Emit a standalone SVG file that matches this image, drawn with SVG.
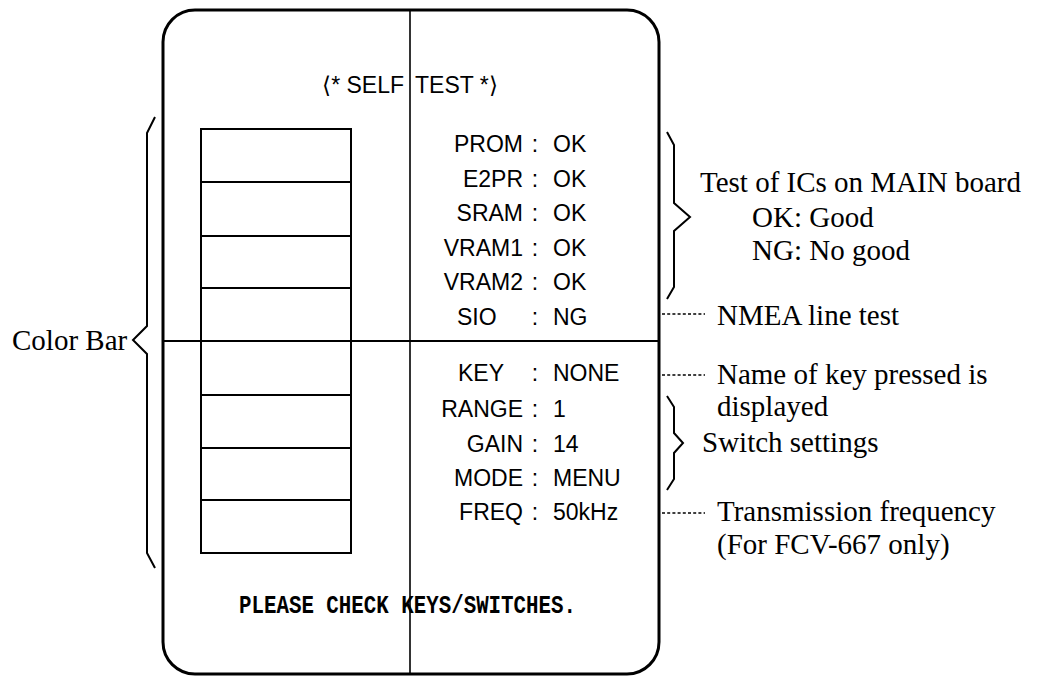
<svg xmlns="http://www.w3.org/2000/svg" width="1039" height="677" viewBox="0 0 1039 677">
<style>
.frame{fill:none;stroke:#000;stroke-width:3}
.thin{fill:none;stroke:#000;stroke-width:1.6}
.box{fill:none;stroke:#000;stroke-width:2}
.brace{fill:none;stroke:#000;stroke-width:2;stroke-linejoin:miter}
.dot{fill:none;stroke:#000;stroke-width:1.4;stroke-dasharray:3 2.2}
.lbl{font-family:"Liberation Sans",Arial,sans-serif;font-size:23px;fill:#000}
.lr{text-anchor:end}
.col{text-anchor:middle}
.ser{font-family:"Liberation Serif","Times New Roman",serif;font-size:29px;fill:#000}
.mono{font-family:"Liberation Mono","Courier New",monospace;font-size:26px;font-weight:bold;fill:#000}
</style>
<rect width="1039" height="677" fill="#fff"/>
<g id="screen">
<rect class="frame" x="163" y="10" width="496" height="664" rx="32" ry="32"/>
<line class="thin" x1="410" y1="10" x2="410" y2="674"/>
<line class="box" x1="163" y1="341" x2="659" y2="341"/>
<text class="lbl" y="93" font-size="26"><tspan x="404" text-anchor="end">⟨* SELF</tspan><tspan x="415">TEST *⟩</tspan></text>
<text class="mono" x="239" y="613" textLength="337" lengthAdjust="spacingAndGlyphs">PLEASE CHECK KEYS/SWITCHES.</text>
</g>
<g id="colorbar">
<rect class="box" x="201" y="129" width="150" height="424"/>
<path class="box" d="M201,182H351M201,236H351M201,288H351M201,395H351M201,448H351M201,500H351"/>
</g>
<g id="ic-tests">
<text class="lbl lr" x="523" y="152">PROM</text><text class="lbl col" x="535" y="152">:</text><text class="lbl" x="553" y="152">OK</text>
<text class="lbl lr" x="523" y="187">E2PR</text><text class="lbl col" x="535" y="187">:</text><text class="lbl" x="553" y="187">OK</text>
<text class="lbl lr" x="523" y="221">SRAM</text><text class="lbl col" x="535" y="221">:</text><text class="lbl" x="553" y="221">OK</text>
<text class="lbl lr" x="523" y="256">VRAM1</text><text class="lbl col" x="535" y="256">:</text><text class="lbl" x="553" y="256">OK</text>
<text class="lbl lr" x="523" y="290">VRAM2</text><text class="lbl col" x="535" y="290">:</text><text class="lbl" x="553" y="290">OK</text>
<text class="lbl" x="457" y="325">SIO</text><text class="lbl col" x="535" y="325">:</text><text class="lbl" x="553" y="325">NG</text>
</g>
<g id="switches">
<text class="lbl" x="458" y="381">KEY</text><text class="lbl col" x="535" y="381">:</text><text class="lbl" x="553" y="381">NONE</text>
<text class="lbl lr" x="523" y="417">RANGE</text><text class="lbl col" x="535" y="417">:</text><text class="lbl" x="553" y="417">1</text>
<text class="lbl lr" x="523" y="452">GAIN</text><text class="lbl col" x="535" y="452">:</text><text class="lbl" x="553" y="452">14</text>
<text class="lbl lr" x="523" y="486">MODE</text><text class="lbl col" x="535" y="486">:</text><text class="lbl" x="553" y="486">MENU</text>
<text class="lbl lr" x="523" y="520">FREQ</text><text class="lbl col" x="535" y="520">:</text><text class="lbl" x="553" y="520">50kHz</text>
</g>
<g id="color-bar-label">
<text class="ser" x="12" y="350">Color Bar</text>
</g>
<g id="ic-note">
<text class="ser" x="700" y="192">Test of ICs on MAIN board</text>
<text class="ser" x="752" y="227">OK: Good</text>
<text class="ser" x="752" y="260">NG: No good</text>
</g>
<g id="nmea-note"><text class="ser" x="717" y="325">NMEA line test</text></g>
<g id="key-note"><text class="ser" x="717" y="384">Name of key pressed is</text><text class="ser" x="717" y="416">displayed</text></g>
<g id="switch-note"><text class="ser" x="702" y="452">Switch settings</text></g>
<g id="freq-note"><text class="ser" x="717" y="521">Transmission frequency</text><text class="ser" x="717" y="554">(For FCV-667 only)</text></g>
<g id="connectors">
<path class="brace" d="M155,117 L147,133 L147,326 L133,340 L147,354 L147,553 L155,568"/>
<path class="brace" d="M667,132 L674,145 L674,203 L690,217 L674,231 L674,287 L667,299"/>
<path class="brace" d="M667,396 L674,407 L674,433 L683,443 L674,453 L674,479 L667,490"/>
<path class="dot" d="M662,314H705"/>
<path class="dot" d="M662,375H705"/>
<path class="dot" d="M662,513H705"/>
</g>
</svg>
